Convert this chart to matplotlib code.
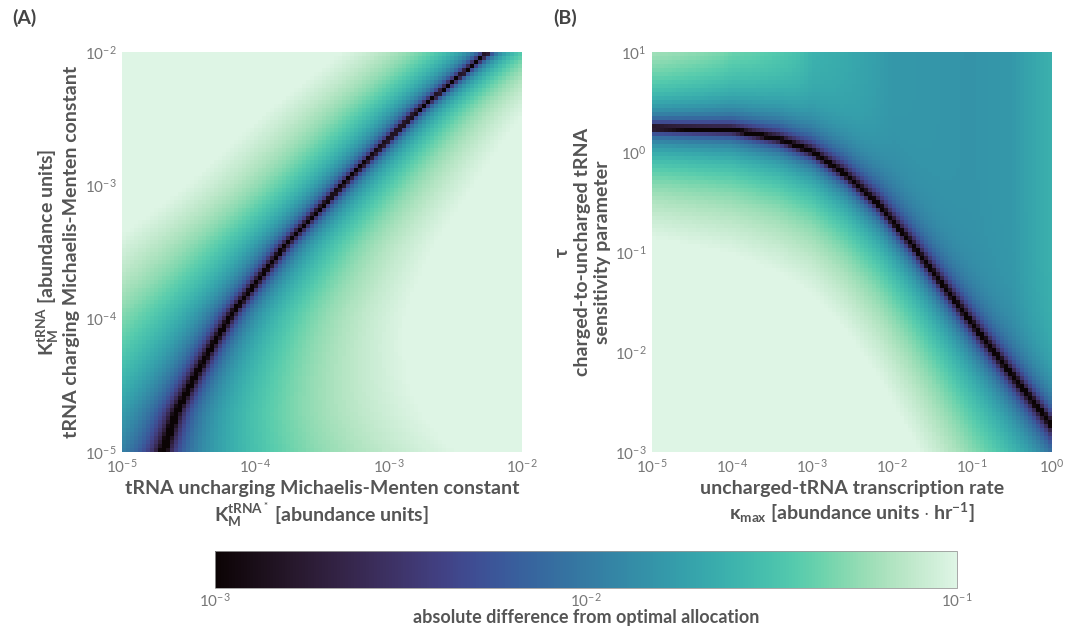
import numpy as np
import matplotlib
matplotlib.use('Agg')
import matplotlib.pyplot as plt
import seaborn as sns
from matplotlib.colors import LogNorm

plt.rcParams['font.family'] = ['Lato', 'DejaVu Sans']
plt.rcParams['mathtext.fontset'] = 'custom'
plt.rcParams['mathtext.rm'] = 'Lato'
plt.rcParams['mathtext.it'] = 'Lato:italic'
plt.rcParams['mathtext.bf'] = 'Lato:bold'

# ---- panel A: position of the optimum (log10 units)
ridge_a_y = [-5.0, -4.7, -4.45, -4.2, -3.95, -3.45, -2.95, -2.45, -2.0]
ridge_a_x = [-4.69, -4.59, -4.46, -4.32, -4.165, -3.775, -3.30, -2.79, -2.25]
# growth of the difference per decade away from the optimum
rate_a_y = [-5.0, -4.0, -3.0, -2.0]
rate_a_left = [0.035, 0.06, 0.085, 0.09]
rate_a_right = [0.045, 0.075, 0.10, 0.14]

# ---- panel B
ridge_b_x = [-5.0, -4.0, -3.42, -3.0, -2.58, -2.17, -1.75, -1.33, -0.92, -0.5, 0.0]
ridge_b_y = [0.24, 0.22, 0.13, 0.0, -0.23, -0.53, -0.93, -1.37, -1.8, -2.23, -2.73]
rate_b_x = [-5.0, -4.0, -3.0, -2.0, -1.0, -0.5, 0.0]
rate_b_below = [0.09, 0.08, 0.07, 0.055, 0.04, 0.035, 0.03]
rate_b_above = [0.08, 0.06, 0.045, 0.035, 0.035, 0.035, 0.04]
cap_b_above = [0.5, 0.08, 0.026, 0.016, 0.015, 0.016, 0.024]

n_cells = 100
GREY = '#555555'
TICK_GREY = '#777777'

# grid A
ea_x = np.linspace(-5, -2, n_cells + 1)
ea_y = np.linspace(-5, -2, n_cells + 1)
ca_x = 0.5 * (ea_x[1:] + ea_x[:-1])
ca_y = 0.5 * (ea_y[1:] + ea_y[:-1])
AX, AY = np.meshgrid(ca_x, ca_y)
ridge_a = np.interp(AY, ridge_a_y, ridge_a_x)
dist_a = AX - ridge_a
diff_a = np.where(dist_a < 0,
                  -dist_a * np.interp(AY, rate_a_y, rate_a_left),
                  dist_a * np.interp(AY, rate_a_y, rate_a_right))
diff_a = np.maximum(diff_a, 1e-4)

# grid B
eb_x = np.linspace(-5, 0, n_cells + 1)
eb_y = np.linspace(-3, 1, n_cells + 1)
cb_x = 0.5 * (eb_x[1:] + eb_x[:-1])
cb_y = 0.5 * (eb_y[1:] + eb_y[:-1])
BX, BY = np.meshgrid(cb_x, cb_y)
ridge_b = np.interp(BX, ridge_b_x, ridge_b_y)
dist_b = BY - ridge_b
cap = np.interp(BX, rate_b_x, cap_b_above)
above = cap * np.tanh(dist_b * np.interp(BX, rate_b_x, rate_b_above) / cap)
below = -dist_b * np.interp(BX, rate_b_x, rate_b_below)
diff_b = np.where(dist_b > 0, above, below)
diff_b = np.maximum(diff_b, 1e-4)

cmap = sns.color_palette('mako', as_cmap=True)
norm = LogNorm(vmin=1e-3, vmax=1e-1)

fig = plt.figure(figsize=(10.74, 6.28), dpi=100)
ax_a = fig.add_axes([122 / 1074, 1 - 452 / 628, 400 / 1074, 400 / 628])
ax_b = fig.add_axes([652 / 1074, 1 - 452 / 628, 400 / 1074, 400 / 628])
cax = fig.add_axes([215 / 1074, 1 - 588 / 628, 742 / 1074, 37 / 628])

mesh = ax_a.pcolormesh(10 ** ea_x, 10 ** ea_y, diff_a, cmap=cmap, norm=norm)
ax_b.pcolormesh(10 ** eb_x, 10 ** eb_y, diff_b, cmap=cmap, norm=norm)

for ax in (ax_a, ax_b):
    ax.set_xscale('log')
    ax.set_yscale('log')
    for s in ax.spines.values():
        s.set_visible(False)
    ax.tick_params(which='both', length=0, labelsize=11, labelcolor=TICK_GREY, pad=4)

ax_a.set_xticks([1e-5, 1e-4, 1e-3, 1e-2])
ax_a.set_yticks([1e-5, 1e-4, 1e-3, 1e-2])
ax_b.set_xticks([1e-5, 1e-4, 1e-3, 1e-2, 1e-1, 1e0])
ax_b.set_yticks([1e-3, 1e-2, 1e-1, 1e0, 1e1])
ax_a.minorticks_off()
ax_b.minorticks_off()

lab = dict(fontsize=14, fontweight='bold', color=GREY)
ax_a.set_xlabel('tRNA uncharging Michaelis-Menten constant\n'
                r'$\mathregular{K_M^{tRNA^*}}$ [abundance units]', labelpad=3, **lab)
ax_a.set_ylabel(r'$\mathregular{K_M^{tRNA}}$ [abundance units]' '\n'
                'tRNA charging Michaelis-Menten constant', labelpad=3, **lab)
ax_b.set_xlabel('uncharged-tRNA transcription rate\n'
                r'$\mathregular{\kappa_{max}}$ [abundance units $\cdot$ hr$^{\mathregular{-1}}$]',
                labelpad=3, **lab)
ax_b.set_ylabel('\u03c4\ncharged-to-uncharged tRNA\nsensitivity parameter', labelpad=3, **lab)

fig.text(12 / 1074, 1 - 18 / 628, '(A)', fontsize=14, fontweight='bold', color='#444444', va='center')
fig.text(553 / 1074, 1 - 18 / 628, '(B)', fontsize=14, fontweight='bold', color='#444444', va='center')

cb = fig.colorbar(mesh, cax=cax, orientation='horizontal')
cb.set_ticks([1e-3, 1e-2, 1e-1])
cb.ax.minorticks_off()
cb.ax.tick_params(length=0, labelsize=11, labelcolor=TICK_GREY, pad=3)
cb.outline.set_edgecolor('#999999')
cb.outline.set_linewidth(0.6)
cb.set_label('absolute difference from optimal allocation', labelpad=-1,
             fontsize=13, fontweight='bold', color=GREY)

plt.savefig('out.png', dpi=100)
